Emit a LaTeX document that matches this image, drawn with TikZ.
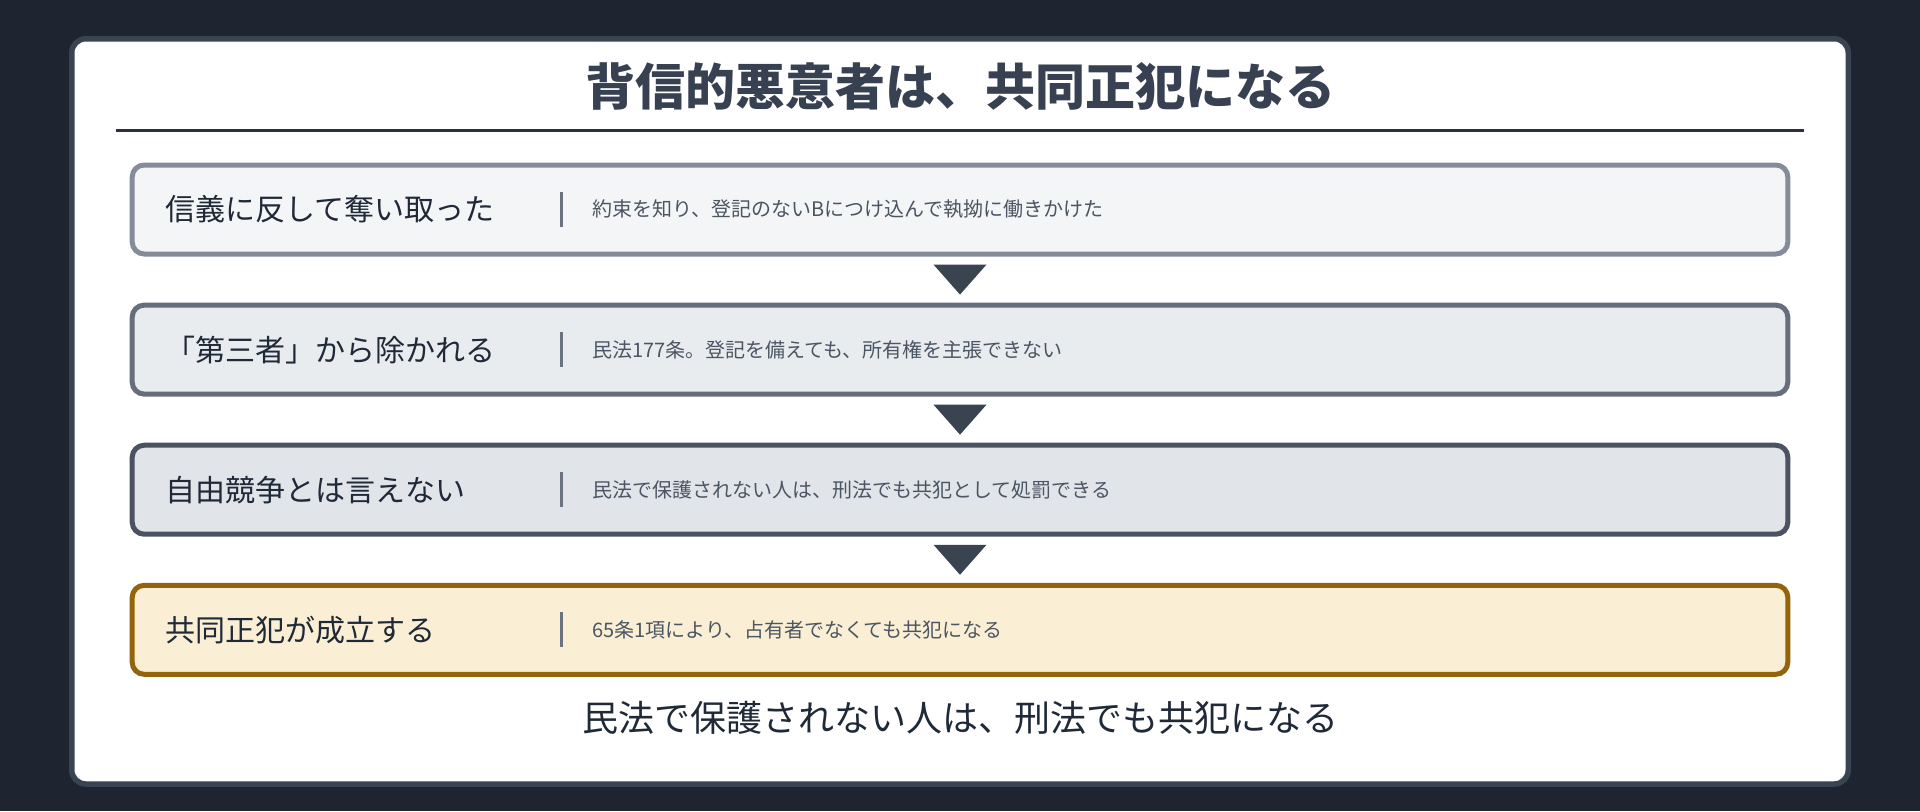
\documentclass[tikz,border=0pt]{standalone}
\usepackage{fontspec}
\setmainfont{Noto Sans CJK JP}
\usetikzlibrary{calc}

\definecolor{pagebg}{HTML}{1E2430}
\definecolor{cardline}{HTML}{3A4352}
\definecolor{titlecol}{HTML}{374151}
\definecolor{rulecol}{HTML}{2B313C}
\definecolor{labelcol}{HTML}{1F2937}
\definecolor{desccol}{HTML}{4B5563}
\definecolor{sepcol}{HTML}{6B7280}
\definecolor{tricol}{HTML}{3A4350}
\definecolor{fillA}{HTML}{F4F5F7}
\definecolor{lineA}{HTML}{848C9A}
\definecolor{fillB}{HTML}{E9ECEF}
\definecolor{lineB}{HTML}{666E7C}
\definecolor{fillC}{HTML}{E1E4E9}
\definecolor{lineC}{HTML}{4B5262}
\definecolor{fillD}{HTML}{FAEFD4}
\definecolor{lineD}{HTML}{94640C}

\tikzset{
stepbox/.style={draw, line width=2.5pt, rounded corners=6pt, minimum width=827.8pt, minimum height=44.5pt, inner sep=0pt},
steplabel/.style={anchor=west, inner sep=0pt, text=labelcol, font=\fontsize{15pt}{18pt}\selectfont},
stepnote/.style={anchor=west, inner sep=0pt, text=desccol, font=\fontsize{10pt}{12pt}\selectfont},
sepline/.style={sepcol, line width=1.5pt},
downtri/.style={fill=tricol}
}

\begin{document}
\begin{tikzpicture}[x=0.5pt,y=-0.5pt]
\fill[pagebg] (0,0) rectangle (1920,811);
\draw[cardline, fill=white, line width=2.75pt, rounded corners=7pt] (71.75,38.75) rectangle (1848.25,784);

\node[text=titlecol, font=\fontsize{25pt}{30pt}\selectfont\bfseries] (title) at (960,86) {背信的悪意者は、共同正犯になる};
\draw[rulecol, line width=1.25pt] (116,130.5) -- (1804,130.5);

% steps
\foreach \i/\yy/\fc/\dc/\lbl/\txt in {
1/209.5/fillA/lineA/信義に反して奪い取った/約束を知り、登記のないBにつけ込んで執拗に働きかけた,
2/349.6/fillB/lineB/「第三者」から除かれる/民法177条。登記を備えても、所有権を主張できない,
3/489.7/fillC/lineC/自由競争とは言えない/民法で保護されない人は、刑法でも共犯として処罰できる,
4/629.8/fillD/lineD/共同正犯が成立する/65条1項により、占有者でなくても共犯になる}{
\node[stepbox, fill=\fc, draw=\dc] (box\i) at (960,\yy) {};
\node[steplabel] (label\i) at (165,\yy) {\lbl};
\draw[sepline] (561.7,\yy-17.5) -- (561.7,\yy+17.5);
\node[stepnote] (note\i) at (591.7,\yy) {\txt};
}

% arrows between steps
\foreach \i/\j in {1/2,2/3,3/4}{
\coordinate (mid\i) at ($(box\i.south)!0.5!(box\j.north)$);
\fill[downtri] ($(mid\i)+(-26.5,-15)$) -- ($(mid\i)+(26.5,-15)$) -- ($(mid\i)+(0,15)$) -- cycle;
}

\node[text=labelcol, font=\fontsize{18pt}{22pt}\selectfont] (footer) at (960,717.5) {民法で保護されない人は、刑法でも共犯になる};
\end{tikzpicture}
\end{document}
